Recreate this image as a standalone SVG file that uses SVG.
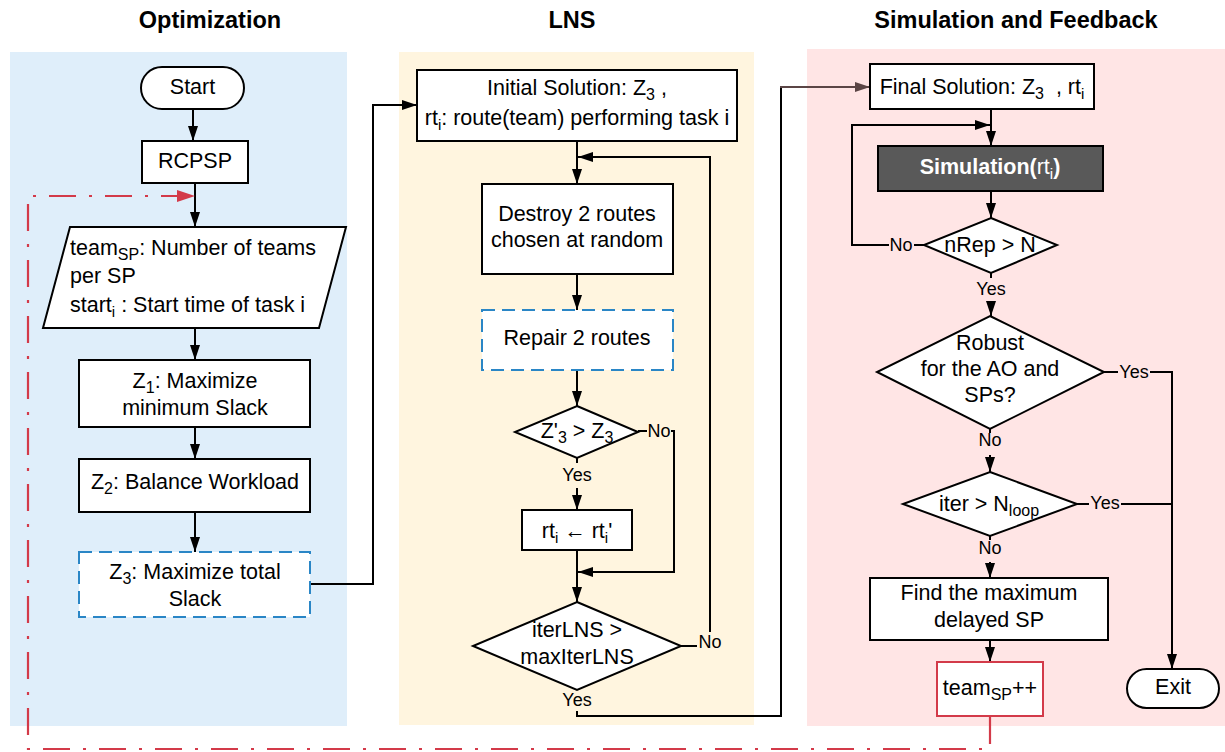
<svg xmlns="http://www.w3.org/2000/svg" width="1225" height="752" viewBox="0 0 1225 752">
<defs>
<style>
text{font-family:"Liberation Sans",Arial,sans-serif;fill:#000}
.t{font-size:21.5px}
.title{font-size:23.5px;font-weight:bold}
.lbl{font-size:18px}
.box{fill:#fff;stroke:#000;stroke-width:2}
.dash{fill:#fff;stroke:#2a86c6;stroke-width:2;stroke-dasharray:13 7}
.ln{fill:none;stroke:#000;stroke-width:2}
.arr{fill:none;stroke:#000;stroke-width:2;marker-end:url(#ah)}
.red{fill:none;stroke:#d33a49;stroke-width:2.2;stroke-dasharray:27 13 3 13;marker-end:url(#rh)}
</style>
<marker id="ah" markerUnits="userSpaceOnUse" markerWidth="15" markerHeight="10" viewBox="0 0 15 10" refX="15" refY="5" orient="auto"><path d="M0,0 L15,5 L0,10 z" fill="#000"/></marker>
<marker id="bh" markerUnits="userSpaceOnUse" markerWidth="15" markerHeight="10" viewBox="0 0 15 10" refX="15" refY="5" orient="auto"><path d="M0,0 L15,5 L0,10 z" fill="#5b4545"/></marker>
<marker id="rh" markerUnits="userSpaceOnUse" markerWidth="18" markerHeight="12" viewBox="0 0 18 12" refX="18" refY="6" orient="auto"><path d="M0,0 L18,6 L0,12 z" fill="#d33a49"/></marker>
</defs>

<g id="panels">
<rect x="10" y="52" width="337" height="674" fill="#dfeefa"/>
<rect x="399" y="52" width="355" height="673" fill="#fff5df"/>
<rect x="807" y="49" width="418" height="677" fill="#ffe5e5"/>
<text class="title" x="210" y="28" text-anchor="middle">Optimization</text>
<text class="title" x="572" y="28" text-anchor="middle">LNS</text>
<text class="title" x="1016" y="28" text-anchor="middle">Simulation and Feedback</text>
</g>

<g id="connectors">
<line class="arr" x1="193" y1="109" x2="193" y2="141"/>
<line class="arr" x1="195" y1="183" x2="195" y2="227"/>
<line class="arr" x1="195" y1="328" x2="195" y2="360"/>
<line class="arr" x1="195" y1="427" x2="195" y2="459"/>
<line class="arr" x1="195" y1="512" x2="195" y2="552"/>
<polyline class="arr" points="310,584 373,584 373,105 417,105"/>
<line class="arr" x1="577" y1="141" x2="577" y2="184"/>
<line class="arr" x1="577" y1="274" x2="577" y2="310"/>
<line class="arr" x1="577" y1="370" x2="577" y2="406"/>
<line class="ln" x1="577" y1="458" x2="577" y2="463"/>
<line class="arr" x1="577" y1="488" x2="577" y2="510"/>
<line class="arr" x1="577" y1="550" x2="577" y2="602"/>
<polyline class="arr" points="638,431 674,431 674,572 578,572"/>
<polyline class="arr" points="681,646 710,646 710,157 578,157"/>
<polyline class="ln" points="577,711 577,716 781,716 781,87"/>
<line x1="780" y1="87" x2="870" y2="87" stroke="#5b4545" stroke-width="2" marker-end="url(#bh)"/>
<line class="arr" x1="991" y1="109" x2="991" y2="146"/>
<polyline class="arr" points="924,245 852,245 852,125 990,125"/>
<line class="arr" x1="991" y1="191" x2="991" y2="218"/>
<line class="ln" x1="991" y1="273" x2="991" y2="278"/>
<line class="arr" x1="991" y1="303" x2="991" y2="316"/>
<line class="ln" x1="990" y1="429" x2="990" y2="433"/>
<line class="arr" x1="990" y1="455" x2="990" y2="472"/>
<line class="ln" x1="990" y1="536" x2="990" y2="540"/>
<line class="arr" x1="990" y1="562" x2="990" y2="578"/>
<line class="arr" x1="990" y1="640" x2="990" y2="662"/>
<polyline class="arr" points="1104,372 1172,372 1172,669"/>
<line class="ln" x1="1077" y1="504" x2="1172" y2="504"/>
<path class="red" d="M990,717 L990,749 L28,749 L28,196 L195,196"/>
</g>

<g id="labels">
<rect x="647" y="421" width="24" height="20" fill="#fff5df"/>
<text class="lbl" x="659" y="437" text-anchor="middle">No</text>
<text class="lbl" x="577" y="481" text-anchor="middle">Yes</text>
<rect x="697" y="632" width="26" height="21" fill="#fff5df"/>
<text class="lbl" x="710" y="648" text-anchor="middle">No</text>
<text class="lbl" x="577" y="706" text-anchor="middle">Yes</text>
<rect x="889" y="235" width="25" height="20" fill="#ffe5e5"/>
<text class="lbl" x="901" y="251" text-anchor="middle">No</text>
<text class="lbl" x="991" y="295" text-anchor="middle">Yes</text>
<rect x="1118" y="362" width="32" height="20" fill="#ffe5e5"/>
<text class="lbl" x="1134" y="378" text-anchor="middle">Yes</text>
<text class="lbl" x="990" y="446" text-anchor="middle">No</text>
<rect x="1089" y="493" width="32" height="20" fill="#ffe5e5"/>
<text class="lbl" x="1105" y="509" text-anchor="middle">Yes</text>
<text class="lbl" x="990" y="554" text-anchor="middle">No</text>
</g>

<g id="start">
<rect class="box" x="141" y="67" width="103" height="42" rx="21"/>
<text class="t" x="192.5" y="94" text-anchor="middle">Start</text>
</g>
<g id="rcpsp">
<rect class="box" x="142" y="141" width="106" height="42"/>
<text class="t" x="195" y="168" text-anchor="middle">RCPSP</text>
</g>
<g id="params">
<polygon class="box" points="70,227 346,227 319,328 43,328"/>
<text class="t" x="70" y="255">team<tspan font-size="16" dy="5">SP</tspan><tspan dy="-5">: Number of teams</tspan></text>
<text class="t" x="70" y="283">per SP</text>
<text class="t" x="70" y="312">start<tspan font-size="15" dy="5">i</tspan><tspan dy="-5"> : Start time of task i</tspan></text>
</g>
<g id="z1">
<rect class="box" x="79" y="360" width="231" height="67"/>
<text class="t" x="195" y="388" text-anchor="middle">Z<tspan font-size="16" dy="5">1</tspan><tspan dy="-5">: Maximize</tspan></text>
<text class="t" x="195" y="415" text-anchor="middle">minimum Slack</text>
</g>
<g id="z2">
<rect class="box" x="79" y="459" width="231" height="53"/>
<text class="t" x="195" y="489" text-anchor="middle">Z<tspan font-size="16" dy="5">2</tspan><tspan dy="-5">: Balance Workload</tspan></text>
</g>
<g id="z3">
<rect class="dash" x="79" y="552" width="231" height="65"/>
<text class="t" x="195" y="579" text-anchor="middle">Z<tspan font-size="16" dy="5">3</tspan><tspan dy="-5">: Maximize total</tspan></text>
<text class="t" x="195" y="606" text-anchor="middle">Slack</text>
</g>

<g id="initial">
<rect class="box" x="417" y="70" width="320" height="71"/>
<text class="t" x="577" y="95" text-anchor="middle">Initial Solution: Z<tspan font-size="16" dy="5">3</tspan><tspan dy="-5"> ,</tspan></text>
<text class="t" x="577" y="125" text-anchor="middle">rt<tspan font-size="15" dy="5">i</tspan><tspan dy="-5">: route(team) performing task i</tspan></text>
</g>
<g id="destroy">
<rect class="box" x="482" y="184" width="191" height="90"/>
<text class="t" x="577" y="221" text-anchor="middle">Destroy 2 routes</text>
<text class="t" x="577" y="247" text-anchor="middle">chosen at random</text>
</g>
<g id="repair">
<rect class="dash" x="482" y="310" width="191" height="60"/>
<text class="t" x="577" y="345" text-anchor="middle">Repair 2 routes</text>
</g>
<g id="cmpz">
<polygon class="box" points="577,406 638,432 577,458 515,432"/>
<text class="t" x="577" y="438" text-anchor="middle">Z'<tspan font-size="16" dy="5">3</tspan><tspan dy="-5"> &gt; Z</tspan><tspan font-size="16" dy="5">3</tspan></text>
</g>
<g id="update">
<rect class="box" x="522" y="510" width="110" height="40"/>
<text class="t" x="577" y="538" text-anchor="middle">rt<tspan font-size="15" dy="5">i</tspan><tspan dy="-5"> ← rt</tspan><tspan font-size="15" dy="5">i</tspan><tspan dy="-5">'</tspan></text>
</g>
<g id="iterlns">
<polygon class="box" points="577,602 681,646 577,690 473,646"/>
<text class="t" x="577" y="637" text-anchor="middle">iterLNS &gt;</text>
<text class="t" x="577" y="664" text-anchor="middle">maxIterLNS</text>
</g>

<g id="final">
<rect class="box" x="870" y="64" width="224" height="45"/>
<text class="t" x="982" y="94" text-anchor="middle">Final Solution: Z<tspan font-size="16" dy="5">3</tspan><tspan dy="-5">&#160;&#160;, rt</tspan><tspan font-size="15" dy="5">i</tspan></text>
</g>
<g id="simulation">
<rect x="878" y="146" width="225" height="45" fill="#595959" stroke="#000" stroke-width="2"/>
<text class="t" x="990" y="174" text-anchor="middle" style="fill:#fff"><tspan font-weight="bold">Simulation(</tspan>rt<tspan font-size="15" dy="5">i</tspan><tspan dy="-5" font-weight="bold">)</tspan></text>
</g>
<g id="nrep">
<polygon class="box" points="991,218 1057,245 991,273 924,245"/>
<text class="t" x="990" y="252" text-anchor="middle">nRep &gt; N</text>
</g>
<g id="robust">
<polygon class="box" points="990,316 1104,372 990,429 877,372"/>
<text class="t" x="990" y="350" text-anchor="middle">Robust</text>
<text class="t" x="990" y="376" text-anchor="middle">for the AO and</text>
<text class="t" x="990" y="402" text-anchor="middle">SPs?</text>
</g>
<g id="iter">
<polygon class="box" points="990,472 1077,504 990,536 903,504"/>
<text class="t" x="989" y="511" text-anchor="middle">iter &gt; N<tspan font-size="16" dy="5">loop</tspan></text>
</g>
<g id="find">
<rect class="box" x="870" y="578" width="238" height="62"/>
<text class="t" x="989" y="600" text-anchor="middle">Find the maximum</text>
<text class="t" x="989" y="627" text-anchor="middle">delayed SP</text>
</g>
<g id="teamsp">
<rect x="937" y="662" width="106" height="54" fill="#fff" stroke="#d33a49" stroke-width="2"/>
<text class="t" x="990" y="695" text-anchor="middle">team<tspan font-size="16" dy="5">SP</tspan><tspan dy="-5">++</tspan></text>
</g>
<g id="exit">
<rect class="box" x="1127" y="669" width="92" height="39" rx="19.5"/>
<text class="t" x="1173" y="694" text-anchor="middle">Exit</text>
</g>
</svg>
